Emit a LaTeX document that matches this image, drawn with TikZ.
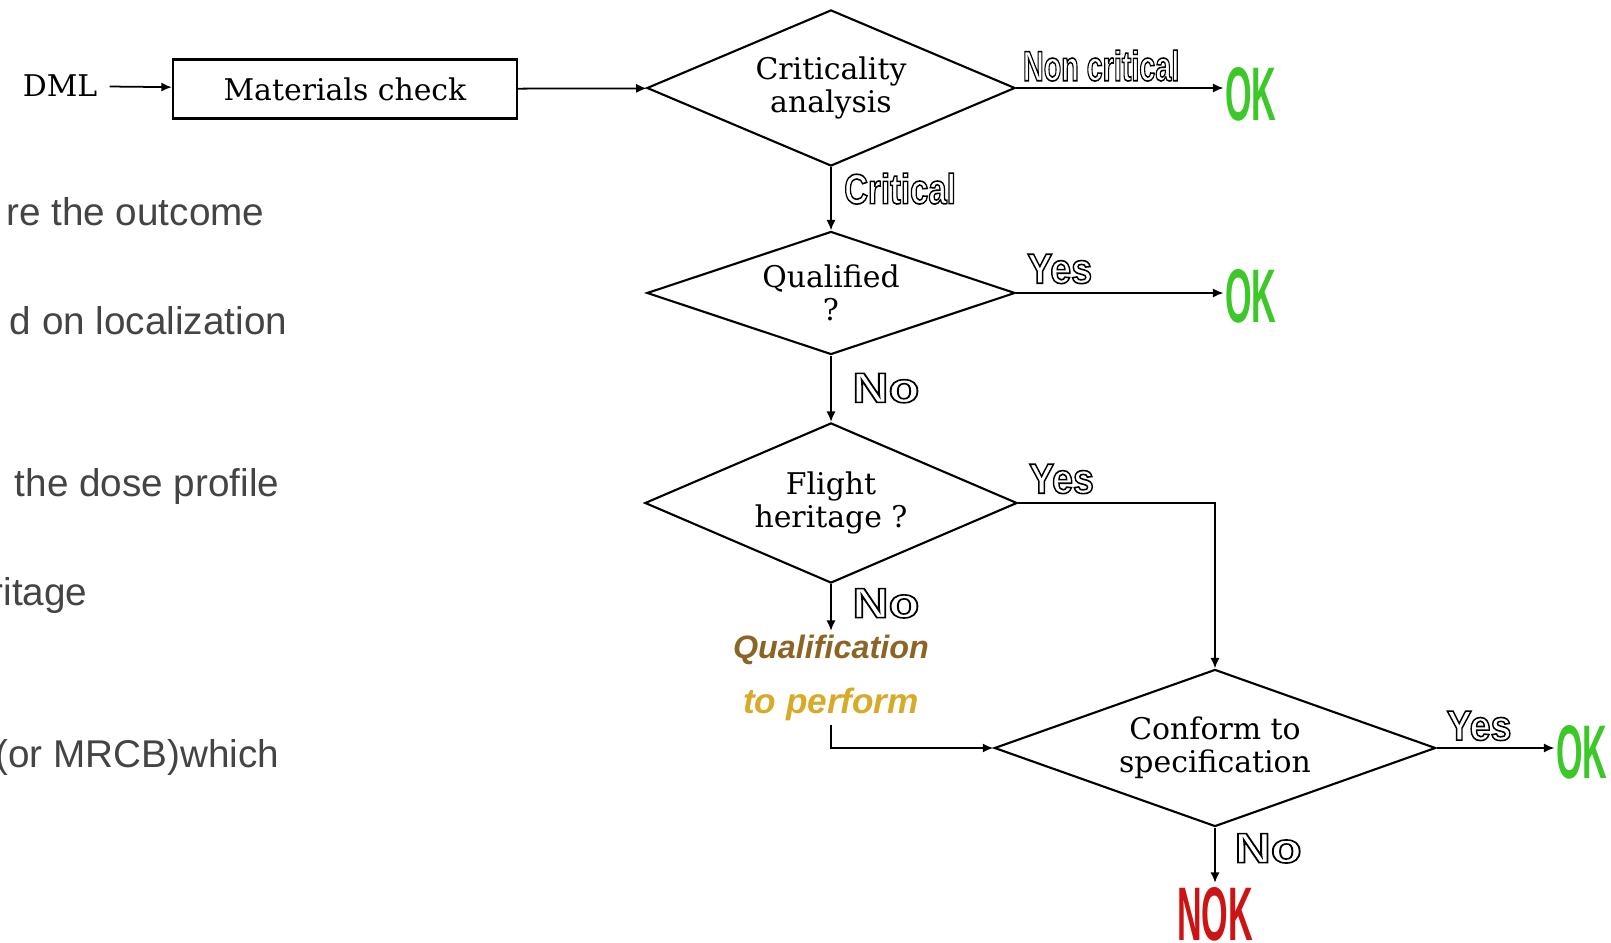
\documentclass[tikz,border=0pt]{standalone}
\usepackage{fontspec}
\setmainfont{DejaVu Serif}
\newfontfamily\slidefont{Liberation Sans}
\newfontfamily\artfont{Liberation Sans}
\usetikzlibrary{shapes.geometric, arrows.meta, positioning}
\tikzset{>={Latex[length=3pt,width=2.6pt]}}
\definecolor{slidegray}{RGB}{68,68,68}
\definecolor{okgreen}{RGB}{60,200,40}
\definecolor{nokred}{RGB}{205,20,20}
\definecolor{qualbrown}{RGB}{140,100,35}
\definecolor{perfgold}{RGB}{215,170,40}
\newcommand{\outlined}[1]{\special{pdf:literal direct 1 Tr 0.45 w}#1\special{pdf:literal direct 0 Tr}}
\tikzset{
  decision/.style={diamond, aspect=2.4, draw=black, line width=0.6pt, inner sep=0pt, align=center, font=\fontsize{8.5}{9.3}\selectfont},
  checkbox/.style={rectangle, draw=black, line width=0.6pt, align=center, font=\fontsize{8.5}{9.3}\selectfont},
  arrow/.style={->, line width=0.5pt},
  answer/.style={font=\artfont\bfseries\fontsize{12}{12}\selectfont, inner sep=1pt},
  verdict/.style={font=\artfont\bfseries\fontsize{21.6}{22}\selectfont, inner sep=1pt, xscale=0.45},
  todo/.style={font=\artfont\bfseries\itshape\fontsize{9.2}{10}\selectfont, inner sep=1pt},
  slidetext/.style={font=\slidefont\fontsize{11}{13}\selectfont, text=slidegray, anchor=base east, inner sep=0pt}
}

\begin{document}
\begin{tikzpicture}[x=0.01cm, y=-0.01cm]
\useasboundingbox (0,0) rectangle (1611,943);
\clip (0,0) rectangle (1611,943);

% Slide text cut by the chart
\node[slidetext] (txt1) at (265,226) {re the outcome};
\node[slidetext] (txt2) at (288,335) {d on localization};
\node[slidetext] (txt3) at (280,497) {the dose profile};
\node[slidetext] (txt4) at (88,606) {ritage};
\node[slidetext] (txt5) at (280,768) {(or MRCB)which};

% Flow chart
\node[font=\fontsize{8.5}{9.3}\selectfont] (dml) at (60,86) {DML};
\node[checkbox, minimum width=3.44cm, minimum height=0.59cm] (check) at (345,89) {Materials check};
\node[decision, minimum width=3.68cm, minimum height=1.56cm] (crit) at (831,88) {Criticality\\analysis};
\node[decision, minimum width=3.68cm, minimum height=1.23cm] (qual) at (831,293) {Qualified\\?};
\node[decision, minimum width=3.72cm, minimum height=1.60cm] (flight) at (831,503) {Flight\\heritage ?};
\node[decision, minimum width=4.41cm, minimum height=1.57cm] (conform) at (1215,748) {Conform to\\specification};

% Outcomes
\node[verdict, text=okgreen] (ok1) at (1251,94) {OK};
\node[verdict, text=okgreen] (ok2) at (1251,296) {OK};
\node[verdict, text=okgreen] (ok3) at (1582,752) {OK};
\node[verdict, text=nokred] (nok) at (1215,914) {NOK};
\node[todo, text=qualbrown] (qualif) at (831,650) {Qualification};
\node[todo, text=perfgold, font=\artfont\bfseries\itshape\fontsize{10}{10}\selectfont] (perform) at (831,704) {to perform};

% Connectors
\draw[arrow] (dml) -- (check);
\draw[arrow] (check) -- (crit);
\draw[arrow] (crit.east) -- node[answer, pos=0.41, above=0.7pt, xscale=0.68] {\outlined{Non critical}} (crit.east -| ok1.west);
\draw[arrow] (crit.south) -- node[answer, pos=0.34, right=2.8pt, xscale=0.78] {\outlined{Critical}} (qual.north);
\draw[arrow] (qual.east) -- node[answer, pos=0.21, above=1.4pt, xscale=0.89] {\outlined{Yes}} (qual.east -| ok2.west);
\draw[arrow] (qual.south) -- node[answer, pos=0.49, right=4.6pt, xscale=1.19] {\outlined{No}} (flight.north);
\draw[arrow] (flight.east) -| node[answer, pos=0.11, above=1.4pt, xscale=0.89] {\outlined{Yes}} (conform.north);
\draw[arrow] (flight.south) -- node[answer, pos=0.41, right=4.6pt, xscale=1.19] {\outlined{No}} (qualif.north);
\draw[arrow] (perform.south) |- (conform.west);
\draw[arrow] (conform.east) -- node[answer, pos=0.36, above=0.85pt, xscale=0.89] {\outlined{Yes}} (conform.east -| ok3.west);
\draw[arrow] (conform.south) -- node[answer, pos=0.375, right=4.1pt, xscale=1.19] {\outlined{No}} (nok.north);

\end{tikzpicture}
\end{document}
